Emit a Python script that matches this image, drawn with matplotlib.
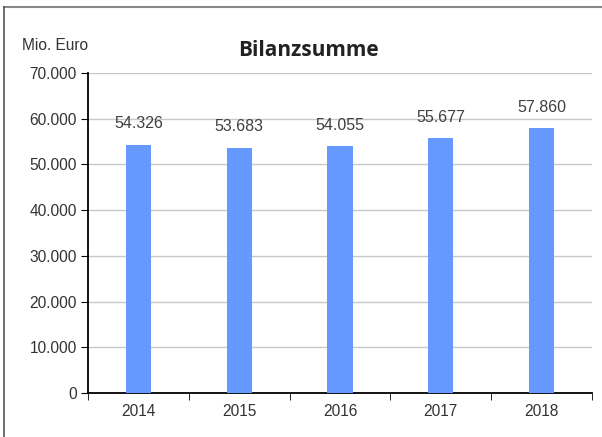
import matplotlib.pyplot as plt
from matplotlib.lines import Line2D

years = ['2014', '2015', '2016', '2017', '2018']
bilanzsumme = [54326, 53683, 54055, 55677, 57860]
y_ticks = [0, 10000, 20000, 30000, 40000, 50000, 60000, 70000]
y_labels = ['0', '10.000', '20.000', '30.000', '40.000', '50.000', '60.000', '70.000']


def de_format(v):
    # German thousands separator
    return f"{v:,}".replace(',', '.')


plt.rcParams['font.family'] = ['Liberation Sans', 'DejaVu Sans']

fig = plt.figure(figsize=(6.02, 4.37), dpi=100)
ax = fig.add_axes([88 / 602, 1 - 393 / 437, (592 - 88) / 602, (393 - 73) / 437])

x = range(len(years))
ax.bar(x, bilanzsumme, width=0.25, color='#6699ff', zorder=3)

for i, v in enumerate(bilanzsumme):
    ax.annotate(de_format(v), (i, v), xytext=(0, 9.5), textcoords='offset points',
                ha='center', va='bottom', fontsize=11.5, color='#404040')

ax.set_xlim(-0.5, len(years) - 0.5)
ax.set_ylim(0, 70000)
ax.set_yticks(y_ticks)
ax.set_yticklabels(y_labels, fontsize=11.2, color='#333333')
ax.set_xticks(list(x))
ax.set_xticklabels(years, fontsize=11.2, color='#333333')
ax.tick_params(axis='x', length=0, pad=8)
ax.set_xticks([i - 0.5 for i in range(len(years) + 1)], minor=True)
ax.tick_params(axis='x', which='minor', length=5, direction='out', color='black')
ax.tick_params(axis='y', length=5, direction='out', color='black', pad=3)

ax.grid(axis='y', color='#c8c8c8', linewidth=1, zorder=0)
ax.spines['top'].set_visible(False)
ax.spines['right'].set_visible(False)
ax.spines['left'].set_color('black')
ax.spines['bottom'].set_color('black')
ax.spines['left'].set_linewidth(1.3)
ax.spines['bottom'].set_linewidth(1.3)

fig.text(22 / 602, 1 - 46 / 437, 'Mio. Euro', fontsize=11.2, color='#333333', va='center')
fig.text(308 / 602, 1 - 50 / 437, 'Bilanzsumme', fontsize=15, fontweight='bold',
         color='#222222', ha='center', va='center', family=['Open Sans', 'DejaVu Sans'])

# outer frame: top and left edges only
fig.add_artist(Line2D([4 / 602, 1], [1 - 7 / 437, 1 - 7 / 437], color='#888888', linewidth=1.5))
fig.add_artist(Line2D([4 / 602, 4 / 602], [0, 1 - 7 / 437], color='#555555', linewidth=1.2))

fig.savefig('out.png', dpi=100)
